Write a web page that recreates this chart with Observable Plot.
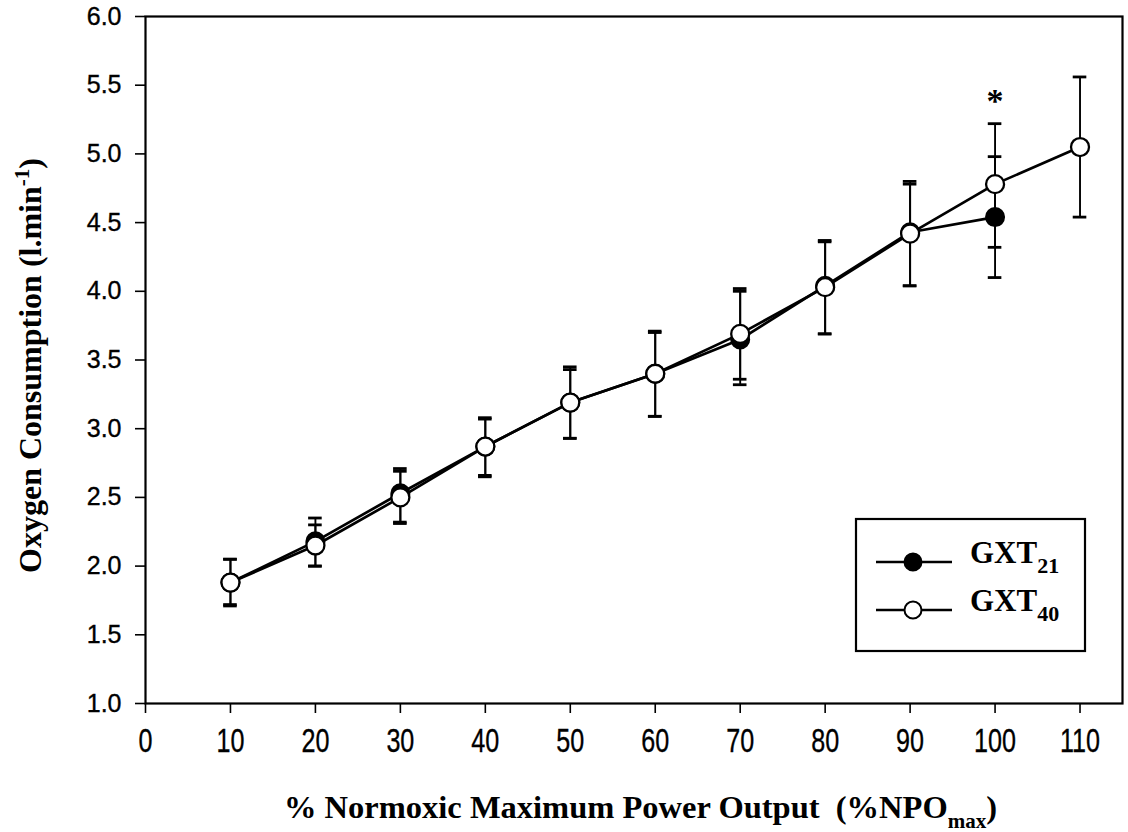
<!DOCTYPE html>
<html>
<head>
<meta charset="utf-8">
<script src="https://cdn.jsdelivr.net/npm/d3@7"></script>
<script src="https://cdn.jsdelivr.net/npm/@observablehq/plot@0.6"></script>
<style>
  html, body { margin: 0; padding: 0; background: #fff; }
  #chart { width: 1128px; height: 832px; }
</style>
</head>
<body>
<div id="chart"></div>
<script>
// ---- data ----
const pct21 = [10, 20, 30, 40, 50, 60, 70, 80, 90, 100];
const gxt21 = [1.88, 2.18, 2.53, 2.87, 3.19, 3.40, 3.65, 4.04, 4.43, 4.54];
const gxt21Upper = [2.05, 2.30, 2.69, 3.07, 3.43, 3.70, 4.00, 4.36, 4.78, 4.98];
const gxt21Lower = [1.72, 2.00, 2.32, 2.66, 2.93, 3.09, 3.32, 3.69, 4.04, 4.10];

const pct40 = [10, 20, 30, 40, 50, 60, 70, 80, 90, 100, 110];
const gxt40 = [1.88, 2.15, 2.50, 2.87, 3.19, 3.40, 3.69, 4.03, 4.42, 4.78, 5.05];
const gxt40Upper = [2.05, 2.35, 2.71, 3.08, 3.45, 3.71, 4.02, 4.37, 4.80, 5.22, 5.56];
const gxt40Lower = [1.71, 2.00, 2.31, 2.65, 2.93, 3.09, 3.36, 3.69, 4.04, 4.32, 4.54];

const sigX = [100];
const sigY = [5.42];
const sigText = ["*"];

const xTicks = [0, 10, 20, 30, 40, 50, 60, 70, 80, 90, 100, 110];
const yTicks = [1.0, 1.5, 2.0, 2.5, 3.0, 3.5, 4.0, 4.5, 5.0, 5.5, 6.0];

const seriesNames = ["GXT", "GXT"];
const seriesSubs = ["21", "40"];
const xTitleMain = "% Normoxic Maximum Power Output  (%NPO";
const xTitleSub = "max";
const yTitleMain = "Oxygen Consumption (l.min";
const yTitleSup = "-1";

(function () {
  const rows21 = pct21.map((x, i) => ({x, y: gxt21[i], lo: gxt21Lower[i], hi: gxt21Upper[i]}));
  const rows40 = pct40.map((x, i) => ({x, y: gxt40[i], lo: gxt40Lower[i], hi: gxt40Upper[i]}));
  const sig = sigX.map((x, i) => ({x, y: sigY[i], t: sigText[i]}));

  const capHalf = 0.8;
  const errMarks = rows => [
    Plot.ruleX(rows, {x: "x", y1: "lo", y2: "hi", stroke: "black", strokeWidth: 1.9}),
    Plot.ruleY(rows, {y: "hi", x1: d => d.x - capHalf, x2: d => d.x + capHalf, stroke: "black", strokeWidth: 2.8}),
    Plot.ruleY(rows, {y: "lo", x1: d => d.x - capHalf, x2: d => d.x + capHalf, stroke: "black", strokeWidth: 2.8})
  ];
  const serif = "Liberation Serif, Times New Roman, serif";

  const plot = Plot.plot({
    width: 1128,
    height: 832,
    marginLeft: 145,
    marginRight: 6,
    marginTop: 16,
    marginBottom: 129,
    style: {background: "white", color: "black", fontFamily: "Liberation Sans, Arial, sans-serif"},
    x: {domain: [0, 115]},
    y: {domain: [1, 6]},
    marks: [
      Plot.axisY({ticks: yTicks, tickFormat: d3.format(".1f"), tickSize: 10, tickPadding: 14, label: null, fontSize: 25, strokeWidth: 1.6}),
      Plot.axisX({ticks: xTicks, tickSize: 10, tickPadding: 14, label: null, fontSize: 34, strokeWidth: 1.6}),
      ...errMarks(rows21),
      ...errMarks(rows40),
      Plot.line(rows21, {x: "x", y: "y", stroke: "black", strokeWidth: 2.7}),
      Plot.dot(rows21, {x: "x", y: "y", r: 9, fill: "black", stroke: "black", strokeWidth: 2}),
      Plot.line(rows40, {x: "x", y: "y", stroke: "black", strokeWidth: 2.7}),
      Plot.dot(rows40, {x: "x", y: "y", r: 9, fill: "white", stroke: "black", strokeWidth: 2.3}),
      Plot.text(sig, {x: "x", y: "y", text: "t", fontSize: 34, fontWeight: "bold", fontFamily: serif, dy: 5, fill: "black"}),
      Plot.frame({stroke: "black", strokeWidth: 2.2})
    ]
  });

  document.getElementById("chart").appendChild(plot);
  const svg = d3.select(plot);
  const sx = plot.scale("x"), sy = plot.scale("y");
  const pLeft = sx.apply(0), pRight = sx.apply(115), pTop = sy.apply(6), pBottom = sy.apply(1);

  // y tick labels: slightly heavier like the scanned reference
  svg.selectAll("g[aria-label='y-axis tick label']")
    .attr("font-size", 25).attr("stroke", "black").attr("stroke-width", 0.35);

  // x tick labels: tall, narrow glyphs
  svg.selectAll("g[aria-label='x-axis tick label']")
    .attr("font-size", 34).attr("stroke", "black").attr("stroke-width", 0.35);
  svg.selectAll("g[aria-label='x-axis tick label'] text").each(function () {
    const t = d3.select(this);
    const tr = t.attr("transform");
    if (tr) {
      t.attr("transform", tr + " scale(0.74,1)");
    } else {
      const x = +t.attr("x") || 0, y = +t.attr("y") || 0;
      t.attr("x", null).attr("y", null).attr("transform", `translate(${x},${y}) scale(0.74,1)`);
    }
  });

  // x title
  const xt = svg.append("text")
    .attr("x", (pLeft + pRight) / 2 + 7)
    .attr("y", pBottom + 115)
    .attr("text-anchor", "middle")
    .attr("font-family", serif).attr("font-weight", "bold").attr("font-size", 32.5)
    .attr("fill", "black");
  xt.append("tspan").text(xTitleMain);
  xt.append("tspan").attr("font-size", 21).attr("dy", 10).text(xTitleSub);
  xt.append("tspan").attr("dy", -10).text(")");

  // y title
  const yt = svg.append("text")
    .attr("transform", `translate(41,${(pTop + pBottom) / 2 + 6}) rotate(-90)`)
    .attr("text-anchor", "middle")
    .attr("font-family", serif).attr("font-weight", "bold").attr("font-size", 32)
    .attr("fill", "black");
  yt.append("tspan").text(yTitleMain);
  yt.append("tspan").attr("font-size", 21).attr("dy", -12).text(yTitleSup);
  yt.append("tspan").attr("dy", 12).text(")");

  // legend
  const lg = svg.append("g");
  const bx = 856, by = 519, bw = 229, bh = 132;
  lg.append("rect").attr("x", bx).attr("y", by).attr("width", bw).attr("height", bh)
    .attr("fill", "white").attr("stroke", "black").attr("stroke-width", 2.2);
  const fills = ["black", "white"];
  [0, 1].forEach(i => {
    const yy = by + 43 + i * 48;
    lg.append("line").attr("x1", bx + 20).attr("x2", bx + 96).attr("y1", yy).attr("y2", yy)
      .attr("stroke", "black").attr("stroke-width", 2.4);
    lg.append("circle").attr("cx", bx + 57).attr("cy", yy).attr("r", 8.5)
      .attr("fill", fills[i]).attr("stroke", "black").attr("stroke-width", 2);
    const tx = lg.append("text").attr("x", bx + 114).attr("y", yy + 1)
      .attr("text-anchor", "start")
      .attr("font-family", serif).attr("font-weight", "bold").attr("font-size", 31).attr("fill", "black");
    tx.append("tspan").text(seriesNames[i]);
    tx.append("tspan").attr("font-size", 22).attr("dy", 10).text(seriesSubs[i]);
  });
})();
</script>
</body>
</html>
